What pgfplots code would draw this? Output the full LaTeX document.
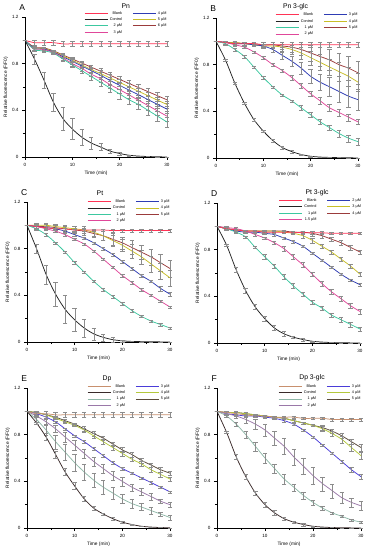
\documentclass[border=0pt]{standalone}
\usepackage{fontspec}
\setmainfont{Liberation Sans}
\usepackage{pgfplots}
\usepackage{pgfplotstable}
\pgfplotsset{compat=1.18}

\definecolor{cBlank}{HTML}{FF3355}
\definecolor{cCtrl}{HTML}{222222}
\definecolor{cGreen}{HTML}{3CC8A0}
\definecolor{cPink}{HTML}{E0479A}
\definecolor{cBlue}{HTML}{2E3CB4}
\definecolor{cYellow}{HTML}{C8BE28}
\definecolor{cBrown}{HTML}{9B3B3B}
\definecolor{dBlank}{HTML}{C8906E}
\definecolor{dCtrl}{HTML}{3A2A2A}
\definecolor{dOne}{HTML}{8FB8A8}
\definecolor{dTwo}{HTML}{9A78A8}
\definecolor{dThree}{HTML}{4A3CD8}
\definecolor{dFour}{HTML}{B4C83C}
\definecolor{dFive}{HTML}{5A4A3A}

\pgfplotstableread{
t  b    be   c     ce    s1   e1   s2    e2   s3    e3    s4    e4    s5    e5
0  1.00 0.00 1.00  0.00  1.00 0.00 1.00  0.00 1.00  0.00  1.00  0.00  1.00  0.00
2  0.98 0.02 0.84  0.04  0.92 0.01 0.92  0.01 0.93  0.01  0.93  0.01  0.94  0.01
4  0.98 0.02 0.66  0.07  0.91 0.01 0.92  0.01 0.925 0.01  0.93  0.01  0.935 0.01
6  0.98 0.02 0.47  0.08  0.89 0.01 0.895 0.01 0.90  0.01  0.905 0.01  0.91  0.01
8  0.97 0.02 0.33  0.10  0.84 0.02 0.85  0.02 0.86  0.015 0.867 0.015 0.875 0.015
10 0.97 0.02 0.24  0.09  0.79 0.02 0.80  0.02 0.82  0.02  0.83  0.02  0.84  0.02
12 0.97 0.02 0.17  0.07  0.74 0.02 0.76  0.02 0.78  0.02  0.79  0.02  0.805 0.02
14 0.97 0.02 0.12  0.05  0.69 0.03 0.71  0.02 0.74  0.02  0.75  0.02  0.77  0.02
16 0.97 0.02 0.085 0.03  0.64 0.03 0.67  0.03 0.70  0.03  0.715 0.03  0.735 0.03
18 0.97 0.02 0.05  0.02  0.59 0.03 0.62  0.03 0.655 0.03  0.677 0.03  0.70  0.03
20 0.97 0.02 0.03  0.01  0.54 0.04 0.577 0.03 0.614 0.03  0.639 0.03  0.665 0.03
22 0.97 0.02 0.015 0.005 0.49 0.04 0.532 0.03 0.573 0.03  0.601 0.03  0.63  0.03
24 0.97 0.02 0.008 0.00  0.45 0.04 0.486 0.03 0.533 0.03  0.563 0.03  0.595 0.03
26 0.97 0.02 0.004 0.00  0.40 0.04 0.441 0.04 0.492 0.03  0.525 0.03  0.56  0.03
28 0.97 0.02 0.002 0.00  0.35 0.04 0.395 0.04 0.451 0.03  0.487 0.03  0.525 0.03
30 0.97 0.02 0.00  0.00  0.30 0.04 0.35  0.04 0.41  0.03  0.45  0.03  0.49  0.03
}\tA

\pgfplotstableread{
t  b    be   c     ce    s1   e1   s2   e2   s3   e3   s4   e4   s5   e5
0  1.00 0.00 1.00  0.00  1.00 0.00 1.00 0.00 1.00 0.00 1.00 0.00 1.00 0.00
2  0.99 0.01 0.84  0.01  0.98 0.01 0.99 0.01 0.99 0.01 0.99 0.01 0.99 0.01
4  0.98 0.01 0.64  0.01  0.93 0.01 0.97 0.01 0.98 0.01 0.99 0.01 0.99 0.01
6  0.98 0.01 0.47  0.01  0.87 0.01 0.95 0.01 0.98 0.01 0.98 0.01 0.98 0.01
8  0.98 0.01 0.33  0.01  0.78 0.01 0.91 0.01 0.97 0.01 0.97 0.01 0.98 0.01
10 0.97 0.01 0.23  0.01  0.69 0.01 0.86 0.01 0.96 0.02 0.96 0.02 0.97 0.02
12 0.97 0.02 0.15  0.01  0.61 0.01 0.80 0.01 0.93 0.02 0.96 0.02 0.97 0.02
14 0.97 0.02 0.09  0.01  0.54 0.01 0.75 0.01 0.88 0.03 0.95 0.03 0.96 0.03
16 0.97 0.02 0.055 0.01  0.49 0.01 0.69 0.02 0.83 0.04 0.93 0.04 0.95 0.04
18 0.97 0.02 0.03  0.005 0.43 0.02 0.62 0.02 0.77 0.05 0.90 0.05 0.93 0.05
20 0.97 0.02 0.015 0.005 0.37 0.02 0.55 0.02 0.70 0.06 0.86 0.06 0.90 0.07
22 0.97 0.02 0.008 0.00  0.31 0.02 0.49 0.03 0.65 0.07 0.82 0.07 0.87 0.08
24 0.97 0.02 0.005 0.00  0.26 0.02 0.43 0.03 0.61 0.08 0.78 0.07 0.84 0.09
26 0.97 0.02 0.003 0.00  0.21 0.03 0.39 0.03 0.57 0.09 0.74 0.08 0.80 0.10
28 0.97 0.02 0.002 0.00  0.17 0.03 0.35 0.03 0.53 0.09 0.70 0.08 0.77 0.10
30 0.97 0.02 0.00  0.00  0.14 0.03 0.31 0.02 0.50 0.09 0.65 0.08 0.73 0.10
}\tB

\pgfplotstableread{
t  b     be   c     ce   s1   e1   s2   e2   s3   e3   s4   e4   s5   e5
0  1.00  0.00 1.00  0.00 1.00 0.00 1.00 0.00 1.00 0.00 1.00 0.00 1.00 0.00
2  0.99  0.01 0.80  0.04 0.97 0.01 0.99 0.01 0.99 0.01 1.00 0.02 0.99 0.02
4  0.98  0.01 0.58  0.08 0.92 0.01 0.97 0.01 0.98 0.01 1.00 0.02 0.99 0.02
6  0.97  0.01 0.41  0.10 0.85 0.01 0.95 0.01 0.97 0.01 0.99 0.02 0.98 0.02
8  0.97  0.01 0.28  0.12 0.77 0.01 0.92 0.01 0.95 0.01 0.98 0.02 0.97 0.02
10 0.96  0.01 0.19  0.10 0.68 0.01 0.88 0.01 0.92 0.01 0.97 0.02 0.96 0.02
12 0.96  0.01 0.12  0.08 0.60 0.01 0.84 0.01 0.89 0.01 0.96 0.03 0.95 0.03
14 0.96  0.01 0.07  0.05 0.52 0.01 0.78 0.01 0.85 0.01 0.94 0.03 0.93 0.03
16 0.96  0.01 0.04  0.03 0.45 0.01 0.71 0.01 0.80 0.01 0.91 0.04 0.91 0.04
18 0.955 0.01 0.02  0.02 0.39 0.01 0.64 0.01 0.75 0.01 0.87 0.05 0.88 0.05
20 0.955 0.01 0.01  0.01 0.33 0.01 0.57 0.01 0.69 0.01 0.83 0.05 0.85 0.05
22 0.955 0.01 0.005 0.00 0.27 0.01 0.51 0.01 0.63 0.01 0.78 0.06 0.81 0.06
24 0.955 0.01 0.003 0.00 0.22 0.01 0.45 0.01 0.57 0.01 0.73 0.06 0.77 0.06
26 0.955 0.01 0.002 0.00 0.18 0.01 0.40 0.01 0.52 0.01 0.67 0.07 0.73 0.07
28 0.955 0.01 0.001 0.00 0.15 0.01 0.35 0.01 0.46 0.02 0.61 0.07 0.68 0.07
30 0.955 0.01 0.00  0.00 0.12 0.01 0.30 0.01 0.41 0.02 0.55 0.07 0.63 0.07
}\tC

\pgfplotstableread{
t  b     be   c     ce    s1   e1   s2   e2   s3   e3   s4   e4   s5   e5
0  1.00  0.00 1.00  0.00  1.00 0.00 1.00 0.00 1.00 0.00 1.00 0.00 1.00 0.00
2  0.98  0.01 0.84  0.01  0.98 0.01 0.99 0.01 0.98 0.01 0.98 0.01 0.98 0.01
4  0.97  0.01 0.63  0.02  0.95 0.01 0.98 0.01 0.96 0.01 0.97 0.01 0.97 0.01
6  0.96  0.01 0.45  0.02  0.91 0.01 0.96 0.01 0.95 0.01 0.96 0.01 0.96 0.01
8  0.96  0.01 0.31  0.02  0.82 0.01 0.93 0.01 0.95 0.01 0.96 0.01 0.96 0.01
10 0.95  0.01 0.21  0.02  0.74 0.02 0.90 0.01 0.94 0.01 0.96 0.01 0.96 0.01
12 0.95  0.01 0.13  0.02  0.66 0.02 0.86 0.01 0.93 0.01 0.96 0.01 0.96 0.01
14 0.95  0.01 0.08  0.02  0.57 0.02 0.81 0.02 0.90 0.01 0.95 0.01 0.96 0.01
16 0.95  0.01 0.05  0.01  0.49 0.02 0.74 0.02 0.87 0.01 0.94 0.01 0.95 0.01
18 0.945 0.01 0.03  0.01  0.42 0.02 0.67 0.02 0.83 0.01 0.92 0.02 0.95 0.01
20 0.945 0.01 0.015 0.005 0.35 0.02 0.59 0.02 0.77 0.01 0.88 0.02 0.94 0.02
22 0.945 0.01 0.008 0.00  0.30 0.02 0.51 0.02 0.71 0.01 0.83 0.02 0.92 0.02
24 0.94  0.01 0.004 0.00  0.24 0.02 0.44 0.02 0.65 0.01 0.78 0.02 0.89 0.02
26 0.94  0.01 0.002 0.00  0.20 0.02 0.38 0.02 0.59 0.01 0.72 0.02 0.86 0.02
28 0.94  0.01 0.001 0.00  0.16 0.02 0.32 0.02 0.54 0.01 0.66 0.02 0.82 0.02
30 0.94  0.01 0.00  0.00  0.12 0.02 0.27 0.02 0.50 0.01 0.59 0.02 0.78 0.02
}\tD

\pgfplotstableread{
t  b    be   c     ce    s1   e1   s2   e2   s3   e3   s4   e4   s5   e5
0  1.00 0.00 1.00  0.00  1.00 0.00 1.00 0.00 1.00 0.00 1.00 0.00 1.00 0.00
2  0.98 0.02 0.90  0.01  0.93 0.02 0.96 0.01 0.98 0.01 0.99 0.01 0.99 0.01
4  0.98 0.02 0.78  0.03  0.84 0.04 0.91 0.02 0.95 0.01 0.97 0.01 0.97 0.01
6  0.97 0.02 0.63  0.03  0.74 0.06 0.85 0.03 0.91 0.01 0.94 0.01 0.95 0.01
8  0.97 0.02 0.48  0.03  0.65 0.07 0.78 0.04 0.85 0.01 0.91 0.01 0.92 0.01
10 0.97 0.02 0.36  0.03  0.56 0.07 0.71 0.04 0.79 0.01 0.88 0.01 0.89 0.01
12 0.97 0.02 0.25  0.02  0.48 0.07 0.64 0.04 0.74 0.01 0.84 0.02 0.85 0.02
14 0.97 0.02 0.17  0.02  0.41 0.06 0.57 0.04 0.68 0.01 0.79 0.02 0.81 0.02
16 0.97 0.02 0.12  0.01  0.35 0.06 0.51 0.04 0.62 0.01 0.74 0.02 0.77 0.02
18 0.97 0.02 0.08  0.01  0.30 0.05 0.45 0.04 0.56 0.01 0.69 0.02 0.72 0.02
20 0.97 0.02 0.05  0.01  0.25 0.04 0.40 0.04 0.51 0.01 0.64 0.02 0.67 0.02
22 0.97 0.02 0.03  0.005 0.21 0.04 0.35 0.03 0.47 0.01 0.59 0.02 0.63 0.02
24 0.97 0.02 0.015 0.00  0.18 0.03 0.31 0.03 0.43 0.01 0.55 0.02 0.58 0.02
26 0.97 0.02 0.008 0.00  0.15 0.03 0.27 0.03 0.39 0.01 0.50 0.02 0.54 0.02
28 0.97 0.02 0.004 0.00  0.12 0.02 0.23 0.02 0.35 0.01 0.46 0.02 0.50 0.02
30 0.97 0.02 0.002 0.00  0.09 0.02 0.20 0.02 0.31 0.01 0.42 0.02 0.47 0.02
}\tE

\pgfplotstableread{
t  b    be   c     ce    s1   e1   s2   e2   s3   e3   s4   e4   s5   e5
0  1.00 0.00 1.00  0.00  1.00 0.00 1.00 0.00 1.00 0.00 1.00 0.00 1.00 0.00
2  0.99 0.01 0.82  0.01  0.96 0.01 0.98 0.01 0.98 0.01 0.99 0.01 0.99 0.01
4  0.98 0.01 0.61  0.02  0.89 0.02 0.96 0.02 0.97 0.01 0.99 0.01 0.99 0.01
6  0.97 0.01 0.44  0.02  0.80 0.03 0.93 0.03 0.96 0.01 0.98 0.01 0.98 0.01
8  0.96 0.01 0.30  0.02  0.70 0.04 0.89 0.04 0.96 0.01 0.97 0.01 0.97 0.01
10 0.96 0.01 0.20  0.02  0.60 0.04 0.84 0.05 0.95 0.01 0.96 0.01 0.96 0.01
12 0.95 0.01 0.13  0.02  0.51 0.04 0.77 0.06 0.94 0.01 0.95 0.01 0.95 0.01
14 0.95 0.01 0.08  0.01  0.42 0.04 0.70 0.07 0.92 0.01 0.94 0.01 0.94 0.01
16 0.95 0.01 0.05  0.01  0.35 0.03 0.61 0.07 0.89 0.01 0.92 0.01 0.92 0.01
18 0.94 0.01 0.03  0.01  0.28 0.03 0.53 0.07 0.84 0.01 0.90 0.01 0.90 0.01
20 0.94 0.01 0.015 0.005 0.22 0.02 0.45 0.07 0.78 0.01 0.88 0.01 0.88 0.01
22 0.94 0.01 0.008 0.00  0.17 0.02 0.38 0.06 0.71 0.01 0.85 0.02 0.86 0.02
24 0.93 0.01 0.004 0.00  0.13 0.01 0.32 0.06 0.64 0.01 0.81 0.02 0.83 0.02
26 0.93 0.01 0.002 0.00  0.10 0.01 0.26 0.05 0.57 0.01 0.76 0.03 0.79 0.02
28 0.93 0.01 0.001 0.00  0.07 0.01 0.22 0.04 0.50 0.02 0.69 0.03 0.74 0.02
30 0.93 0.01 0.00  0.00  0.05 0.01 0.19 0.04 0.44 0.02 0.62 0.03 0.69 0.03
}\tF

\newcommand{\ser}[4]{%
\addplot[#4, line width=0.75pt, smooth, forget plot,
  error bars/.cd, y dir=both, y explicit,
  error bar style={black!45, line width=0.3pt},
  error mark options={rotate=90, black!45, mark size=2.2pt, line width=0.3pt}]
  table[x=t, y=#2, y error=#3] {#1};}

\newcommand{\allser}[8]{%
\ser{#1}{s5}{e5}{#8}
\ser{#1}{s4}{e4}{#7}
\ser{#1}{s3}{e3}{#6}
\ser{#1}{s2}{e2}{#5}
\ser{#1}{s1}{e1}{#4}
\ser{#1}{c}{ce}{#3}
\ser{#1}{b}{be}{#2}}

\newcommand{\leg}[2]{\addlegendimage{#1}\addlegendentry{#2}}

\tikzset{
  plabel/.style={font=\fontsize{8.5}{9}\selectfont, anchor=center},
  ptitle/.style={font=\fontsize{6.8}{7}\selectfont, anchor=center},
}

\pgfplotsset{
  panel/.style={
    scale only axis, height=140pt,
    xmin=0, xmax=30, ymin=0, ymax=1.2,
    axis lines=left, axis line style={-, line width=0.5pt},
    xtick={0,10,20,30}, ytick={0,0.4,0.8,1.2}, yticklabels={0,0.4,0.8,1.2},
    minor xtick={5,15,25}, minor ytick={0.2,0.6,1.0},
    tick align=outside, major tick length=3pt, minor tick length=2pt,
    tick style={black, line width=0.4pt},
    ticklabel style={font=\fontsize{4.6}{5}\selectfont},
    /pgf/number format/assume math mode=true,
    xlabel={Time (min)}, ylabel={Relative fluorescence (F/F0)},
    label style={font=\fontsize{4.8}{5.5}\selectfont},
    xlabel style={yshift=3pt},
    ylabel style={yshift=-3pt},
    clip=false,
    legend cell align=right,
    legend image code/.code={\draw[##1, line width=0.75pt] (0pt,0pt) -- (23pt,0pt);},
    legend style={draw=none, fill=none, anchor=north east,
      font=\fontsize{3.8}{4}\selectfont, legend columns=2,
      inner sep=0pt, row sep=2.2pt, column sep=1.5pt,
      /tikz/every even column/.append style={column sep=10pt},
      nodes={inner sep=0.3pt, text height=2.8pt, text depth=0.8pt}},
  },
}

\begin{document}
\begin{tikzpicture}
\useasboundingbox (0pt,0pt) rectangle (369pt,550pt);

% ---------- A ----------
\begin{axis}[panel, width=142pt, at={(25pt,393pt)}, anchor=south west,
  legend style={at={(1,1.045)}}]
\allser{\tA}{cBlank}{cCtrl}{cGreen}{cPink}{cBlue}{cYellow}{cBrown}
\leg{cBlank}{Blank}\leg{cBlue}{4 µM}
\leg{cCtrl}{Control}\leg{cYellow}{5 µM}
\leg{cGreen}{2 µM}\leg{cBrown}{6 µM}
\leg{cPink}{3 µM}
\node[plabel] at (rel axis cs:-0.02,1.065) {A};
\node[ptitle] at (rel axis cs:0.71,1.08) {Pn};
\end{axis}

% ---------- B ----------
\begin{axis}[panel, width=142pt, at={(216pt,392pt)}, anchor=south west,
  legend style={at={(1,1.04)}}]
\allser{\tB}{cBlank}{cCtrl}{cGreen}{cPink}{cBlue}{cYellow}{cBrown}
\leg{cBlank}{Blank}\leg{cBlue}{3 µM}
\leg{cCtrl}{Control}\leg{cYellow}{4 µM}
\leg{cGreen}{1 µM}\leg{cBrown}{5 µM}
\leg{cPink}{2 µM}
\node[plabel] at (rel axis cs:-0.02,1.065) {B};
\node[ptitle] at (rel axis cs:0.56,1.08) {Pn 3-glc};
\end{axis}

% ---------- C ----------
\begin{axis}[panel, width=143pt, at={(27pt,208pt)}, anchor=south west,
  legend style={at={(1,1.02)}}]
\allser{\tC}{cBlank}{cCtrl}{cGreen}{cPink}{cBlue}{cYellow}{cBrown}
\leg{cBlank}{Blank}\leg{cBlue}{3 µM}
\leg{cCtrl}{Control}\leg{cYellow}{4 µM}
\leg{cGreen}{1 µM}\leg{cBrown}{5 µM}
\leg{cPink}{2 µM}
\node[plabel] at (rel axis cs:-0.02,1.065) {C};
\node[ptitle] at (rel axis cs:0.51,1.065) {Pt};
\end{axis}

% ---------- D ----------
\begin{axis}[panel, width=143pt, at={(217pt,207pt)}, anchor=south west,
  legend style={at={(1.01,1.035)}}]
\allser{\tD}{cBlank}{cCtrl}{cGreen}{cPink}{cBlue}{cYellow}{cBrown}
\leg{cBlank}{Blank}\leg{cBlue}{2 µM}
\leg{cCtrl}{Control}\leg{cYellow}{3 µM}
\leg{cGreen}{1 µM}\leg{cBrown}{4 µM}
\leg{cPink}{1.5 µM}
\node[plabel] at (rel axis cs:-0.02,1.065) {D};
\node[ptitle] at (rel axis cs:0.70,1.07) {Pt 3-glc};
\end{axis}

% ---------- E ----------
\begin{axis}[panel, width=143pt, at={(27pt,22pt)}, anchor=south west,
  legend style={at={(1,1.03)}}]
\allser{\tE}{dBlank}{dCtrl}{dOne}{dTwo}{dThree}{dFour}{dFive}
\leg{dBlank}{Blank}\leg{dThree}{3 µM}
\leg{dCtrl}{Control}\leg{dFour}{4 µM}
\leg{dOne}{1 µM}\leg{dFive}{5 µM}
\leg{dTwo}{2 µM}
\node[plabel] at (rel axis cs:-0.02,1.065) {E};
\node[ptitle] at (rel axis cs:0.56,1.065) {Dp};
\end{axis}

% ---------- F ----------
\begin{axis}[panel, width=144pt, at={(217pt,22pt)}, anchor=south west,
  legend style={at={(1,1.03)}}]
\allser{\tF}{dBlank}{dCtrl}{dOne}{dTwo}{dThree}{dFour}{dFive}
\leg{dBlank}{Blank}\leg{dThree}{3 µM}
\leg{dCtrl}{Control}\leg{dFour}{4 µM}
\leg{dOne}{1 µM}\leg{dFive}{5 µM}
\leg{dTwo}{2 µM}
\node[plabel] at (rel axis cs:-0.02,1.065) {F};
\node[ptitle] at (rel axis cs:0.66,1.07) {Dp 3-glc};
\end{axis}
\end{tikzpicture}
\end{document}
